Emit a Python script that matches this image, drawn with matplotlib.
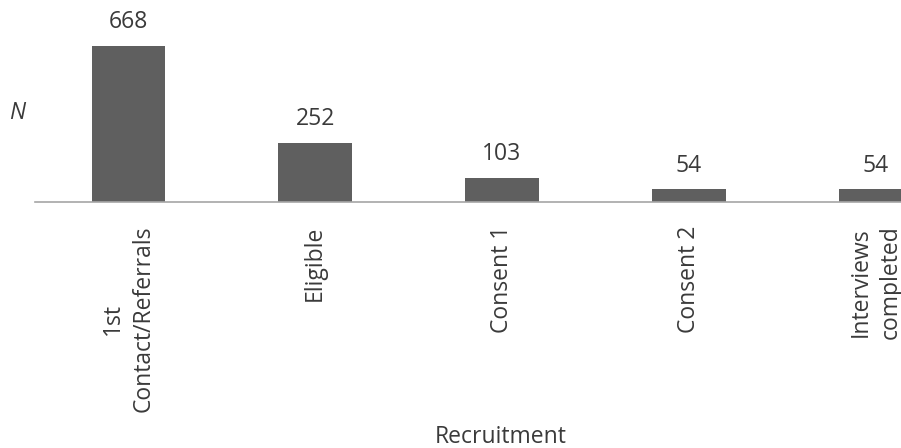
import matplotlib
matplotlib.use("Agg")
import matplotlib.pyplot as plt

categories = ["1st\nContact/Referrals", "Eligible", "Consent 1", "Consent 2", "Interviews\ncompleted"]
values = [668, 252, 103, 54, 54]

plt.rcParams['font.family'] = ['Open Sans', 'DejaVu Sans']
TXT = '#3a3a3a'
FS = 16.5

fig = plt.figure(figsize=(9.01, 4.48), dpi=100)
W, H = 901, 448
left_px, base_px, width_px = 35, 202, 934
ymax = 800
height_px = ymax * 156 / 668
ax = fig.add_axes([left_px / W, 1 - base_px / H, width_px / W, height_px / H])

x = list(range(len(categories)))
bars = ax.bar(x, values, width=0.395, color='#5f5f5f', zorder=2)
ax.set_xlim(-0.5, len(categories) - 0.5)
ax.set_ylim(0, ymax)

for xi, v in zip(x, values):
    ax.annotate(str(v), (xi, v), xytext=(0, 8.5), textcoords='offset points',
                ha='center', va='bottom', fontsize=FS, color=TXT)

for s in ['top', 'right', 'left']:
    ax.spines[s].set_visible(False)
ax.spines['bottom'].set_color('#a6a6a6')
ax.spines['bottom'].set_linewidth(1.2)
ax.set_yticks([])
ax.set_xticks(x)
ax.set_xticklabels(categories, rotation=90, fontsize=FS, color=TXT,
                   linespacing=1.35, multialignment='center')
ax.tick_params(axis='x', length=0, pad=17)

fig.text(501 / W, 1 - 437 / H, "Recruitment", ha='center', va='center',
         fontsize=FS, color=TXT)
fig.text(17 / W, 1 - 113 / H, "N", ha='center', va='center', fontsize=FS,
         style='italic', color=TXT)

fig.savefig("out.png", dpi=100)
